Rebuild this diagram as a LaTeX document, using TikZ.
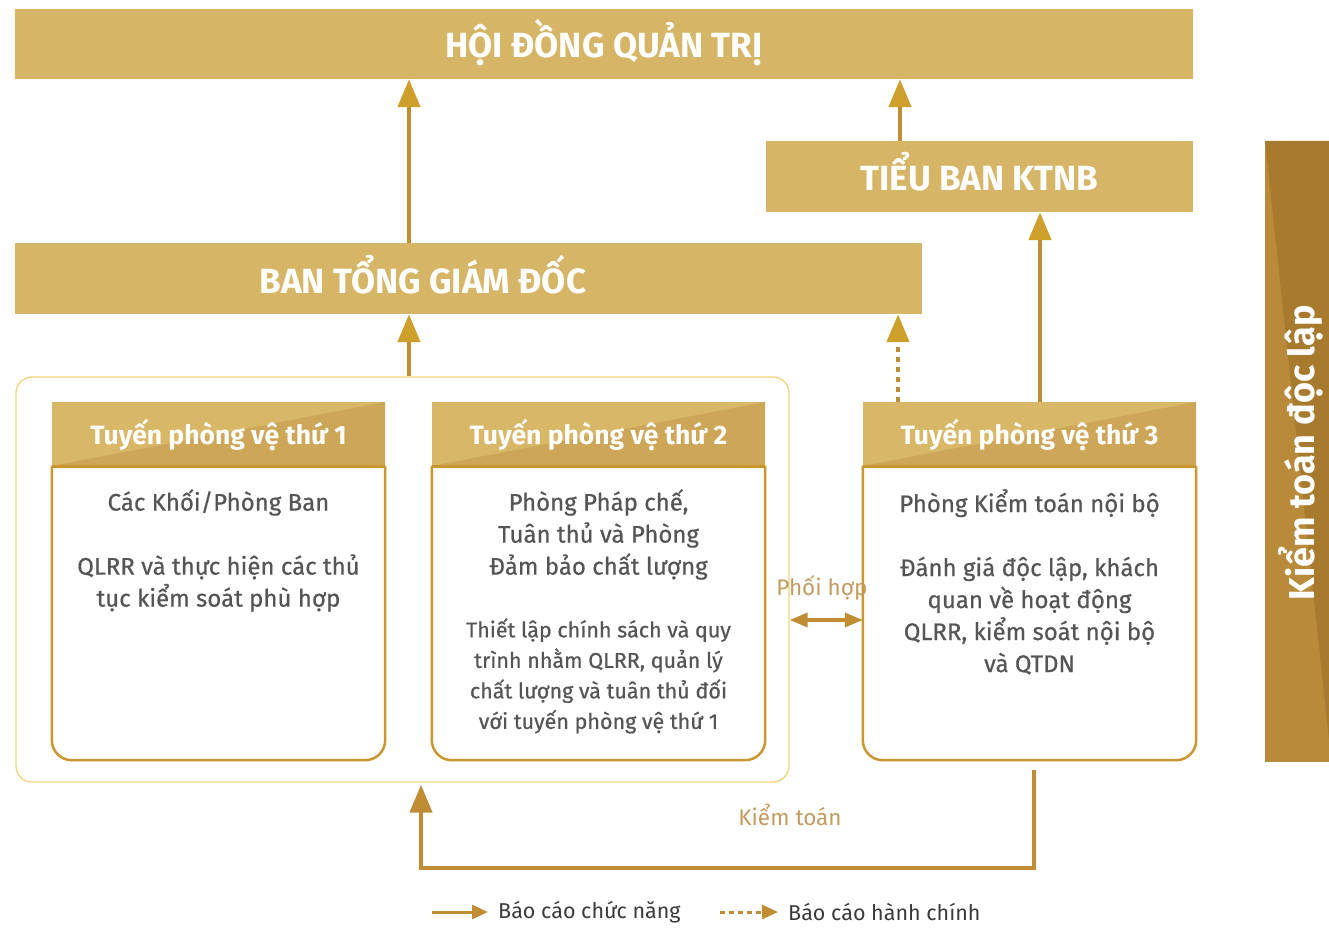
\documentclass[tikz,border=0pt]{standalone}
\usepackage{fontspec}
\setmainfont{Fira Sans}
\newfontfamily\medfont{Fira Sans}[FakeBold=0.6]
\usetikzlibrary{arrows.meta}
\definecolor{barfill}{HTML}{D6B566}
\definecolor{tablight}{HTML}{D8B767}
\definecolor{tabdark}{HTML}{CEA658}
\definecolor{boxline}{HTML}{C99630}
\definecolor{connc}{HTML}{C08C34}
\definecolor{tipc}{HTML}{CF9F2C}
\definecolor{framec}{HTML}{F2D27A}
\definecolor{sidedark}{HTML}{A77A2E}
\definecolor{sidelight}{HTML}{B98A3A}
\definecolor{tanc}{HTML}{C49A5E}
\definecolor{bodytext}{HTML}{555555}
\definecolor{legtext}{HTML}{3A3A3A}
\begin{document}
\begin{tikzpicture}[x=1pt,y=-1pt,
  bar/.style={fill=barfill, draw=none, text=white, font=\fontsize{35}{40}\selectfont\bfseries, inner sep=0, text height=28, text depth=0},
  tab/.style={fill=tablight, draw=none, text=white, minimum width=333, minimum height=64, inner sep=0,
     font=\fontsize{26.5}{30}\selectfont\bfseries, text height=21, text depth=0,
     path picture={\fill[tabdark] (path picture bounding box.south west) -- (path picture bounding box.north east) -- (path picture bounding box.south east) -- cycle;}},
  bodyarea/.style={minimum width=333, minimum height=294, inner sep=0, draw=none},
  bodybox/.style={draw=boxline, line width=2.5, rounded corners=20},
  btext/.style={text=bodytext, align=center, inner sep=0, anchor=north, font=\medfont\fontsize{24}{32}\selectfont},
  stext/.style={text=bodytext, align=center, inner sep=0, anchor=north, font=\medfont\fontsize{21.5}{30.5}\selectfont},
  conn/.style={draw=connc, line width=4.5, -{Triangle[length=28,width=22,fill=tipc,color=tipc]}},
  dotconn/.style={draw=connc, line width=4.5, dash pattern=on 5 off 5, -{Triangle[length=28,width=22,fill=tipc,color=tipc]}},
  lbl/.style={text=tanc, font=\fontsize{22.5}{26}\selectfont, inner sep=0},
  leg/.style={text=legtext, font=\fontsize{21.5}{25}\selectfont, inner sep=0, anchor=west}
]
\useasboundingbox (0,0) rectangle (1329,928);

% top bars
\node[bar, minimum width=1178, minimum height=70] (hdqt) at (604,44) {HỘI ĐỒNG QUẢN TRỊ};
\node[bar, minimum width=427, minimum height=71] (ktnb) at (979.5,176.5) {TIỂU BAN KTNB};
\node[bar, minimum width=907, minimum height=71] (tgd) at (468.5,278.5) {};
\node[bar, fill=none] (tgdtext) at (423,279) {BAN TỔNG GIÁM ĐỐC};

% side bar
\fill[sidelight] (1265,141) rectangle (1329,762);
\fill[sidedark] (1265,141) -- (1329,141) -- (1329,740) -- cycle;
\node[rotate=90, text=white, font=\fontsize{36}{40}\selectfont\bfseries, inner sep=0] (side) at (1301,453) {Kiểm toán độc lập};

% outer frame
\node[draw=framec, line width=1.3, rounded corners=16, minimum width=773, minimum height=405, inner sep=0] (frame) at (402.5,579.5) {};

% boxes
\node[bodyarea] (bx1) at (218.5,613) {};
\node[bodyarea] (bx2) at (598.5,613) {};
\node[bodyarea] (bx3) at (1029.5,613) {};
\draw[bodybox] (bx1.north west) -- (bx1.south west) -- (bx1.south east) -- (bx1.north east);
\draw[bodybox] (bx2.north west) -- (bx2.south west) -- (bx2.south east) -- (bx2.north east);
\draw[bodybox] (bx3.north west) -- (bx3.south west) -- (bx3.south east) -- (bx3.north east);
\node[tab] (t1) at (218.5,434) {Tuyến phòng vệ thứ 1};
\node[tab] (t2) at (598.5,434) {Tuyến phòng vệ thứ 2};
\node[tab] (t3) at (1029.5,434) {Tuyến phòng vệ thứ 3};
\draw[boxline, line width=3] (t1.south west) -- (t1.south east);
\draw[boxline, line width=3] (t2.south west) -- (t2.south east);
\draw[boxline, line width=3] (t3.south west) -- (t3.south east);

\node[btext] (b1) at (218.5,489) {Các Khối/Phòng Ban\\[32pt]QLRR và thực hiện các thủ\\tục kiểm soát phù hợp};
\node[btext] (b2) at (598.5,489) {Phòng Pháp chế,\\Tuân thủ và Phòng\\Đảm bảo chất lượng};
\node[stext] (b2s) at (598.5,618) {Thiết lập chính sách và quy\\trình nhằm QLRR, quản lý\\chất lượng và tuân thủ đối\\với tuyến phòng vệ thứ 1};
\node[btext] (b3) at (1029.5,489) {Phòng Kiểm toán nội bộ\\[32pt]Đánh giá độc lập, khách\\quan về hoạt động\\QLRR, kiểm soát nội bộ\\và QTDN};

% column coordinates
\coordinate (c1) at (409,0);
\coordinate (c2) at (900,0);
\coordinate (c3) at (1040,0);
\coordinate (c4) at (898,0);
\coordinate (kx) at (1034,0);
\coordinate (kr) at (421,0);
\coordinate (ky) at (0,868);

% connectors
\draw[conn] (frame.north -| c1) -- (tgd.south -| c1);
\draw[conn] (tgd.north -| c1) -- (hdqt.south -| c1);
\draw[conn] (ktnb.north -| c2) -- (hdqt.south -| c2);
\draw[conn] (t3.north -| c3) -- (ktnb.south -| c3);
\draw[dotconn] (t3.north -| c4) -- (tgd.south -| c4);

% phoi hop
\coordinate (ph) at (0,620);
\draw[draw=connc, line width=3.5, {Triangle[length=18,width=14]}-{Triangle[length=18,width=14]}] (frame.east |- ph) -- (bx3.west |- ph);
\node[lbl] (phl) at (822,588) {Phối hợp};

% kiem toan
\draw[draw=connc, line width=4.5, -{Triangle[length=28,width=22]}] ([yshift=-10]bx3.south -| kx) |- (ky -| kr) -- ([yshift=-2]frame.south -| kr);
\node[lbl] (ktl) at (790,815) {Kiểm toán};

% legend
\coordinate (l1a) at (432,912);
\coordinate (l1b) at (488,912);
\coordinate (l2a) at (720,912);
\coordinate (l2b) at (778,912);
\draw[draw=connc, line width=3, -{Triangle[length=16,width=14]}] (l1a) -- (l1b);
\draw[draw=connc, line width=3, dash pattern=on 5 off 4, -{Triangle[length=16,width=14]}] (l2a) -- (l2b);
\node[leg] (lt1) at (498,912) {Báo cáo chức năng};
\node[leg] (lt2) at (788,912) {Báo cáo hành chính};
\end{tikzpicture}
\end{document}
